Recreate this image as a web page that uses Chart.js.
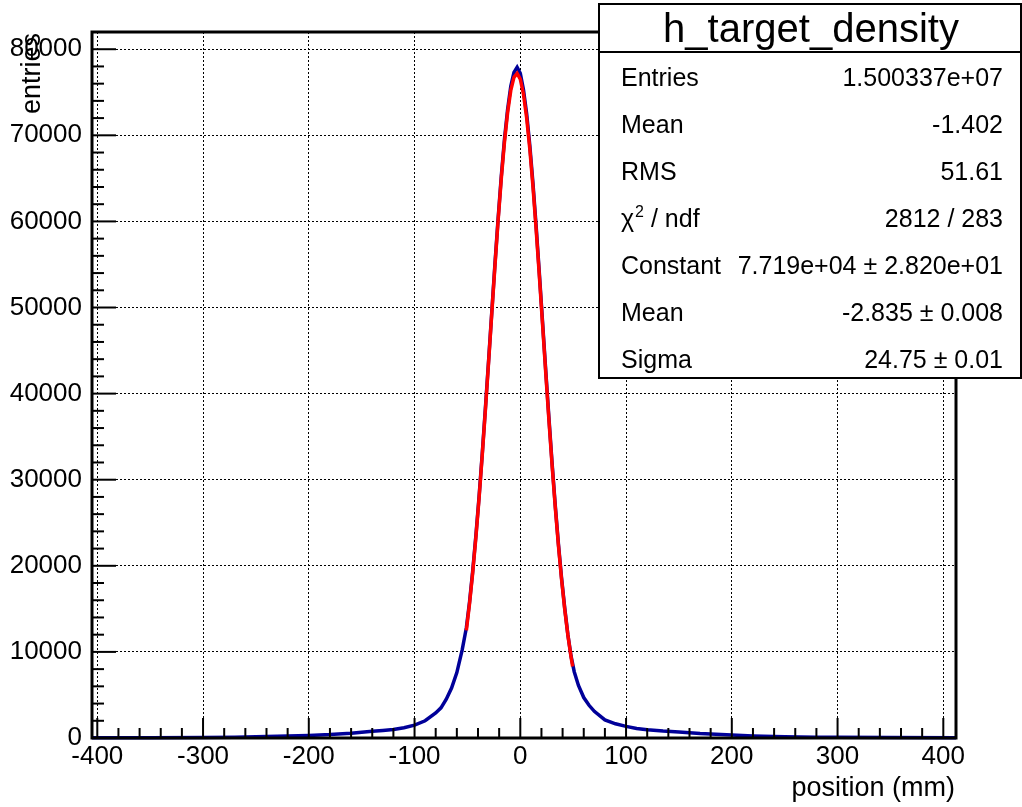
<!DOCTYPE html>
<html>
<head>
<meta charset="utf-8">
<script src="https://cdn.jsdelivr.net/npm/chart.js@4"></script>
<style>
  body { margin: 0; background: #fff; }
  canvas { display: block; }
</style>
</head>
<body>
<canvas id="myChart" width="1022" height="807"></canvas>
<script>
// histogram h_target_density
const histX = [-405, -380, -350, -300, -270, -250, -230, -210, -200, -180, -160, -150, -140, -130, -120, -110, -100,
  -90, -80, -75, -70, -65, -60, -55, -51, -48, -45, -42, -39, -36, -33, -30, -27, -24, -21, -18, -15, -12, -9, -6, -3,
  0, 3, 6, 9, 12, 15, 18, 21, 24, 27, 30, 33, 36, 39, 42, 45, 48, 51, 55, 60, 65, 70, 80, 90, 100, 110, 120, 135,
  150, 170, 200, 220, 250, 280, 300, 350, 412];
const histY = [20, 25, 30, 60, 100, 140, 200, 260, 300, 400, 560, 680, 780, 880, 1000, 1200, 1500,
  2000, 2900, 3500, 4500, 5800, 7600, 10200, 12800, 15800, 19400, 23500, 28000, 33000, 38300, 43800, 49400, 55000, 60300, 65200, 69500, 73000, 75700, 77300, 77900,
  77200, 75300, 72500, 68800, 64400, 59400, 54000, 48400, 42800, 37300, 32000, 27100, 22600, 18600, 15100, 12000, 9500, 7700, 6100, 4700, 3800, 3100, 2100, 1650, 1350, 1100, 950, 800,
  700, 520, 350, 240, 150, 100, 80, 50, 30];

// gaussian fit curve (red)
const fitX = [-51, -48, -45, -42, -39, -36, -33, -30, -27, -24, -21, -18, -15, -12, -9, -6, -3,
  0, 3, 6, 9, 12, 15, 18, 21, 24, 27, 30, 33, 36, 39, 42, 45, 48, 49.5];
const fitY = [12500, 15610, 19200, 23300, 27840, 32820, 38120, 43640, 49250, 54790, 60080, 64930, 69180, 72650, 75210, 76740, 77190,
  76520, 74770, 72030, 68390, 64010, 59050, 53690, 48130, 42520, 37040, 31790, 26900, 22440, 18450, 14940, 11940, 9400, 8300];

const xTicks = [-400, -300, -200, -100, 0, 100, 200, 300, 400];
const yTicks = [0, 10000, 20000, 30000, 40000, 50000, 60000, 70000, 80000];

const statsTitle = 'h_target_density';
const statsNames = ['Entries', 'Mean', 'RMS', 'chi2', 'Constant', 'Mean', 'Sigma'];
const statsValues = ['1.500337e+07', '-1.402', '51.61', '2812 / 283', '7.719e+04 \u00b1 2.820e+01', '-2.835 \u00b1 0.008', '24.75 \u00b1 0.01'];

const FONT = "'Liberation Sans', Arial, Helvetica, sans-serif";

function seg(ctx, x1, y1, x2, y2) {
  ctx.beginPath();
  ctx.moveTo(x1, y1);
  ctx.lineTo(x2, y2);
  ctx.stroke();
}

// ROOT style frame, inner ticks and axis titles
const rootFrame = {
  id: 'rootFrame',
  afterDatasetsDraw(chart) {
    const ctx = chart.ctx;
    const a = chart.chartArea;
    const x = chart.scales.x, y = chart.scales.y;
    ctx.save();
    ctx.strokeStyle = '#000';
    ctx.lineWidth = 2;
    for (let v = xTicks[0]; v <= xTicks[xTicks.length - 1]; v += 20) {
      const px = x.getPixelForValue(v);
      seg(ctx, px, a.bottom, px, a.bottom - (v % 100 === 0 ? 20 : 10));
    }
    for (let v = 0; v <= 80000; v += 2000) {
      const py = y.getPixelForValue(v);
      seg(ctx, a.left, py, a.left + (v % 10000 === 0 ? 24 : 12), py);
    }
    ctx.lineWidth = 3;
    ctx.strokeRect(a.left, a.top, a.right - a.left, a.bottom - a.top);

    ctx.fillStyle = '#000';
    ctx.font = '27px ' + FONT;
    ctx.textAlign = 'right';
    ctx.textBaseline = 'alphabetic';
    ctx.fillText('position (mm)', 955, 796);

    ctx.translate(33, 33);
    ctx.rotate(-Math.PI / 2);
    ctx.textAlign = 'right';
    ctx.textBaseline = 'middle';
    ctx.fillText('entries', 0, 0);
    ctx.restore();
  }
};

// stats box in the top right corner
const statsBox = {
  id: 'statsBox',
  afterDraw(chart) {
    const ctx = chart.ctx;
    ctx.save();
    ctx.fillStyle = '#fff';
    ctx.fillRect(599, 4, 422, 374);
    ctx.strokeStyle = '#000';
    ctx.lineWidth = 2;
    ctx.strokeRect(599, 4, 422, 374);
    seg(ctx, 599, 52, 1021, 52);

    ctx.fillStyle = '#000';
    ctx.textBaseline = 'alphabetic';
    ctx.font = '40px ' + FONT;
    ctx.textAlign = 'center';
    ctx.fillText(statsTitle, 811, 42);

    ctx.font = '25px ' + FONT;
    for (let i = 0; i < statsNames.length; i++) {
      const base = 86 + i * 47;
      ctx.textAlign = 'left';
      if (statsNames[i] === 'chi2') {
        let px = 621;
        ctx.fillText('\u03c7', px, base);
        px += ctx.measureText('\u03c7').width + 1;
        ctx.font = '16px ' + FONT;
        ctx.fillText('2', px, base - 10);
        px += ctx.measureText('2').width;
        ctx.font = '25px ' + FONT;
        ctx.fillText(' / ndf', px, base);
      } else {
        ctx.fillText(statsNames[i], 621, base);
      }
      ctx.textAlign = 'right';
      ctx.fillText(statsValues[i], 1003, base);
    }
    ctx.restore();
  }
};

const tickFont = { family: FONT, size: 26 };

const config = {
  type: 'line',
  data: {
    datasets: [{
      label: 'fit',
      data: fitX.map((v, i) => ({ x: v, y: fitY[i] })),
      borderColor: '#ff0000',
      borderWidth: 3.5,
      pointRadius: 0,
      fill: false,
      order: 0
    }, {
      label: 'h_target_density',
      data: histX.map((v, i) => ({ x: v, y: histY[i] })),
      borderColor: '#000099',
      borderWidth: 3.5,
      pointRadius: 0,
      fill: false,
      clip: false,
      order: 1
    }]
  },
  options: {
    responsive: false,
    animation: false,
    layout: { padding: { top: 32, right: 66, left: 0, bottom: 0 } },
    plugins: { legend: { display: false }, tooltip: { enabled: false } },
    scales: {
      x: {
        type: 'linear',
        min: -405,
        max: 412,
        afterBuildTicks: s => { s.ticks = xTicks.map(v => ({ value: v })); },
        afterFit: s => { s.height = 69; },
        grid: { color: '#000', lineWidth: 1, drawTicks: false },
        border: { display: false, dash: [2, 2] },
        ticks: { font: tickFont, color: '#000', padding: 3, maxRotation: 0, autoSkip: false, callback: v => String(v) }
      },
      y: {
        type: 'linear',
        min: 0,
        max: 82000,
        afterBuildTicks: s => { s.ticks = yTicks.map(v => ({ value: v })); },
        afterFit: s => { s.width = 92; },
        grid: { color: '#000', lineWidth: 1, drawTicks: false },
        border: { display: false, dash: [2, 2] },
        ticks: { font: tickFont, color: '#000', padding: 10, autoSkip: false, callback: v => String(v) }
      }
    }
  },
  plugins: [rootFrame, statsBox]
};

const myChart = new Chart(document.getElementById('myChart'), config);
</script>
</body>
</html>
